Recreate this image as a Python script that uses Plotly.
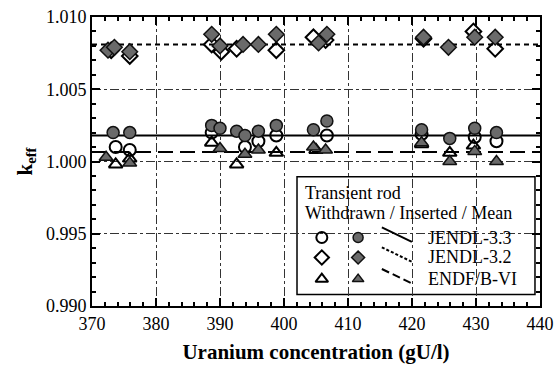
import plotly.graph_objects as go

# ---------------- data ----------------
# JENDL-3.3 (circles)
j33_wd_x = [373.7, 375.9, 388.7, 393.9, 396.0, 398.8, 406.7, 421.5, 429.8, 433.2]
j33_wd_y = [1.0010, 1.0008, 1.0020, 1.0010, 1.0014, 1.0018, 1.0018, 1.0019, 1.0017, 1.0014]
j33_in_x = [373.3, 375.9, 388.7, 390.0, 392.6, 393.9, 396.0, 398.8, 404.6, 406.7, 421.5, 425.9, 429.8, 433.2]
j33_in_y = [1.0020, 1.0020, 1.0025, 1.0023, 1.0021, 1.0018, 1.0021, 1.0025, 1.0022, 1.0028, 1.0022, 1.0016, 1.0023, 1.0020]
# JENDL-3.2 (diamonds)
j32_wd_x = [373.0, 375.9, 388.7, 390.2, 392.6, 398.8, 404.6, 406.5, 421.8, 429.6, 433.0]
j32_wd_y = [1.0077, 1.0073, 1.0081, 1.0076, 1.0078, 1.0077, 1.0086, 1.0084, 1.0085, 1.0090, 1.0078]
j32_in_x = [372.5, 373.5, 375.9, 388.7, 390.0, 393.6, 396.0, 398.8, 405.4, 406.7, 421.8, 425.7, 429.8, 433.0]
j32_in_y = [1.0077, 1.0079, 1.0076, 1.0088, 1.0080, 1.0081, 1.0081, 1.0088, 1.0082, 1.0088, 1.0086, 1.0079, 1.0086, 1.0086]
# ENDF/B-VI (triangles)
endf_wd_x = [373.7, 375.9, 388.7, 392.6, 398.8, 405.0, 421.5, 425.9, 429.6]
endf_wd_y = [0.9998, 1.0002, 1.0013, 0.9998, 1.0006, 1.0008, 1.0012, 1.0006, 1.0011]
endf_in_x = [372.2, 375.9, 390.0, 393.9, 396.0, 404.6, 406.5, 421.5, 425.9, 429.8, 433.2]
endf_in_y = [1.0003, 0.9999, 1.0009, 1.0005, 1.0008, 1.0010, 1.0008, 1.0013, 1.0000, 1.0007, 1.0000]
# Means
mean_names = ["JENDL-3.3", "JENDL-3.2", "ENDF/B-VI"]
mean_values = [1.0018, 1.0081, 1.00065]

x_range = [370, 440]
y_range = [0.990, 1.010]

# ---------------- styles ----------------
FONT = "Liberation Serif"
FILL = "#6a6a6a"
series = [
    (j33_wd_x, j33_wd_y, "circle-open", None),
    (j33_in_x, j33_in_y, "circle", FILL),
    (j32_wd_x, j32_wd_y, "diamond-open", None),
    (j32_in_x, j32_in_y, "diamond", FILL),
    (endf_wd_x, endf_wd_y, "triangle-up-open", None),
    (endf_in_x, endf_in_y, "triangle-up", FILL),
]
line_dash = ["solid", "5px,4px", "15px,7px"]
line_w = [2, 2, 2]

fig = go.Figure()

for i, v in enumerate(mean_values):
    fig.add_trace(go.Scatter(x=x_range, y=[v, v], mode="lines",
                             line=dict(color="black", width=line_w[i], dash=line_dash[i]),
                             showlegend=False, hoverinfo="skip"))

for xs, ys, sym, fill in series:
    if fill is None:
        mk = dict(symbol=sym, size=12, color="black", line=dict(width=2, color="black"))
    else:
        mk = dict(symbol=sym, size=12, color=fill, line=dict(width=1.5, color="#111"))
    fig.add_trace(go.Scatter(x=xs, y=ys, mode="markers", marker=mk, showlegend=False))

# ---------------- custom legend (overlay axes 0..1 = plot area) ----------------
leg_rows_y = [0.237, 0.168, 0.093]
leg_open_x = 0.513
leg_fill_x = 0.594
leg_line_x = [0.647, 0.714]
leg_text_x = 0.745
for r, ry in enumerate(leg_rows_y):
    sym_o = series[2 * r][2]
    sym_f = series[2 * r + 1][2]
    fig.add_trace(go.Scatter(x=[leg_open_x], y=[ry], xaxis="x2", yaxis="y2", mode="markers",
                             marker=dict(symbol=sym_o, size=11, color="black", line=dict(width=2, color="black")),
                             showlegend=False, hoverinfo="skip"))
    fig.add_trace(go.Scatter(x=[leg_fill_x], y=[ry], xaxis="x2", yaxis="y2", mode="markers",
                             marker=dict(symbol=sym_f, size=10, color=FILL, line=dict(width=1.5, color="#111")),
                             showlegend=False, hoverinfo="skip"))
    fig.add_trace(go.Scatter(x=leg_line_x, y=[ry + 0.035, ry - 0.015], xaxis="x2", yaxis="y2", mode="lines",
                             line=dict(color="black", width=2, dash=["solid", "3px,2px", "8px,4px"][r]),
                             showlegend=False, hoverinfo="skip"))
    fig.add_annotation(x=leg_text_x, y=ry, xref="paper", yref="paper", text=mean_names[r],
                       showarrow=False, xanchor="left", yanchor="middle",
                       font=dict(family=FONT, size=18, color="black"))

fig.add_annotation(x=0.471, y=0.392, xref="paper", yref="paper", text="Transient rod",
                   showarrow=False, xanchor="left", yanchor="middle",
                   font=dict(family=FONT, size=18, color="black"))
fig.add_annotation(x=0.471, y=0.323, xref="paper", yref="paper", text="Withdrawn / Inserted / Mean",
                   showarrow=False, xanchor="left", yanchor="middle",
                   font=dict(family=FONT, size=18, color="black"))

fig.add_shape(type="rect", xref="paper", yref="paper", x0=0.4576, x1=0.9888, y0=0.040, y1=0.447,
              line=dict(color="black", width=1.5), fillcolor="white", layer="between")

axis_common = dict(
    showline=True, linewidth=2, linecolor="black", mirror="ticks",
    ticks="inside", ticklen=8, tickwidth=1.5, tickcolor="black",
    showgrid=True, griddash="dashdot", gridcolor="#333", gridwidth=0.8,
    zeroline=False, automargin=False,
    tickfont=dict(family=FONT, size=18, color="black"),
)

fig.update_layout(
    width=557, height=372,
    margin=dict(l=92, r=17, t=17, b=66),
    plot_bgcolor="white", paper_bgcolor="white",
    font=dict(family=FONT, size=18, color="black"),
    showlegend=False,
    hovermode=False,
    xaxis=dict(range=x_range, dtick=10, tick0=370,
               minor=dict(dtick=2, ticks="inside", ticklen=4, tickcolor="black", showgrid=False),
               title=dict(text="<b>Uranium concentration (gU/l)</b>", standoff=12,
                          font=dict(family=FONT, size=21, color="black")),
               **axis_common),
    yaxis=dict(range=y_range, dtick=0.005, tick0=0.990, tickformat=".3f",
               minor=dict(dtick=0.001, ticks="inside", ticklen=4, tickcolor="black", showgrid=False),
               title=dict(text="<b>k<sub>eff</sub></b>", standoff=8,
                          font=dict(family=FONT, size=21, color="black")),
               **axis_common),
    xaxis2=dict(range=[0, 1], overlaying="x", anchor="y2", visible=False),
    yaxis2=dict(range=[0, 1], overlaying="y", anchor="x2", visible=False),
)

fig.write_html(
    "out.html",
    config={"displayModeBar": False},
    post_script="document.body.style.margin='0';document.body.style.overflow='hidden';",
)
